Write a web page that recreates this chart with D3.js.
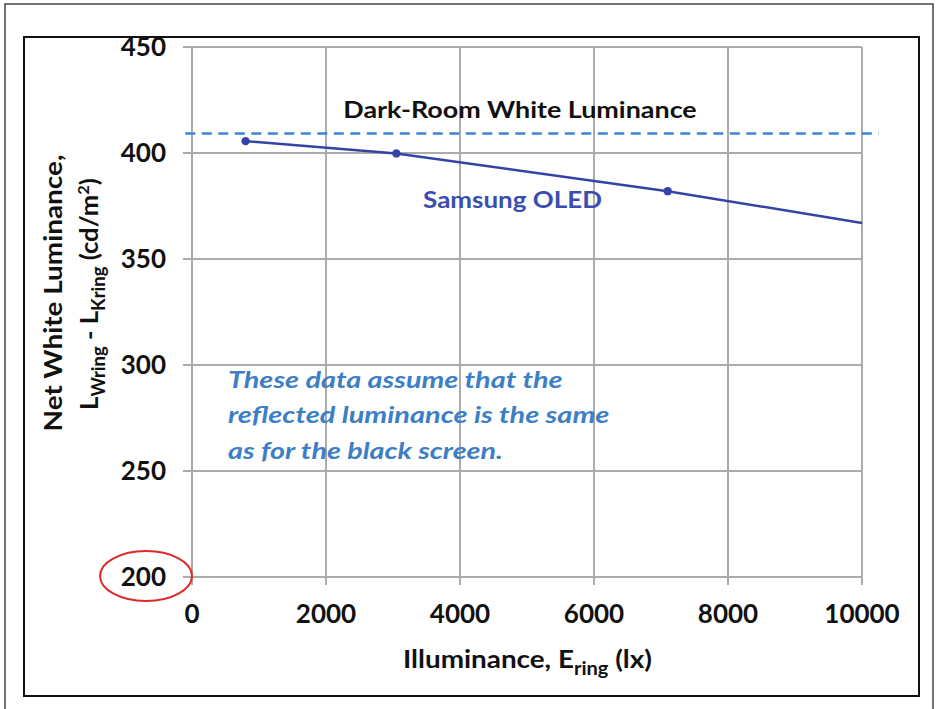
<!DOCTYPE html>
<html><head><meta charset="utf-8">
<script src="https://cdn.jsdelivr.net/npm/d3@7"></script>
<style>body{margin:0;background:#fff}svg{display:block}</style>
</head><body>
<script>
// Data
const xTicks = [0, 2000, 4000, 6000, 8000, 10000];
const yTicks = [200, 250, 300, 350, 400, 450];
const measIllum = [800, 3050, 7100];          // measured points (markers)
const measLum = [405.6, 399.8, 382.0];
const lineIllum = [800, 3050, 7100, 10000];   // plotted curve
const lineLum = [405.6, 399.8, 382.0, 367.0];
const darkRoomLum = 409.2;
const darkRoomRange = [-100, 10250];
const noteLines = ["These data assume that the", "reflected luminance is the same", "as for the black screen."];

const W = 940, H = 709;
const svg = d3.select("body").append("svg").attr("width", W).attr("height", H);
const font = "Lato, 'Open Sans', sans-serif";

// stretch a text horizontally (in its own coords) to a target width around cx
function fitWidth(sel, target, cx) {
  const w = sel.node().getBBox().width;
  const k = target / w;
  sel.attr("transform", `translate(${cx},0) scale(${k},1) translate(${-cx},0)`);
}

// Frames
svg.append("rect").attr("x", 5).attr("y", 4).attr("width", 928).attr("height", 720)
  .attr("fill", "none").attr("stroke", "#444").attr("stroke-width", 1.5);
svg.append("rect").attr("x", 24).attr("y", 37).attr("width", 895).attr("height", 659)
  .attr("fill", "none").attr("stroke", "#111").attr("stroke-width", 2);

const x = d3.scaleLinear().domain([0, 10000]).range([192, 862]);
const y = d3.scaleLinear().domain([200, 450]).range([577, 47]);

const grid = "#ababab";
svg.append("g").selectAll("line").data(xTicks).join("line")
  .attr("x1", d => x(d)).attr("x2", d => x(d))
  .attr("y1", y(450)).attr("y2", y(200) + 8)
  .attr("stroke", grid).attr("stroke-width", 2);
svg.append("g").selectAll("line").data(yTicks).join("line")
  .attr("x1", x(0) - 9).attr("x2", x(10000))
  .attr("y1", d => y(d)).attr("y2", d => y(d))
  .attr("stroke", grid).attr("stroke-width", 2);

// tick labels
svg.append("g").selectAll("text").data(yTicks).join("text")
  .attr("x", 166).attr("y", d => y(d)).attr("dy", "0.36em")
  .attr("text-anchor", "end").attr("font-family", font).attr("font-weight", "bold")
  .attr("font-size", 26).attr("fill", "#111").text(d => d);
svg.append("g").selectAll("text").data(xTicks).join("text")
  .attr("x", d => x(d)).attr("y", 623)
  .attr("text-anchor", "middle").attr("font-family", font).attr("font-weight", "bold")
  .attr("font-size", 26).attr("fill", "#111").text(d => d);

// dashed dark-room line
svg.append("line")
  .attr("x1", x(darkRoomRange[0])).attr("x2", x(darkRoomRange[1]))
  .attr("y1", y(darkRoomLum)).attr("y2", y(darkRoomLum))
  .attr("stroke", "#3a86d6").attr("stroke-width", 2.5).attr("stroke-dasharray", "10,6.5");

// data line
const pts = lineIllum.map((v, i) => [v, lineLum[i]]);
svg.append("path").datum(pts)
  .attr("d", d3.line().x(d => x(d[0])).y(d => y(d[1])))
  .attr("fill", "none").attr("stroke", "#3343a8").attr("stroke-width", 2.5);
svg.append("g").selectAll("circle").data(measIllum).join("circle")
  .attr("cx", d => x(d)).attr("cy", (d, i) => y(measLum[i])).attr("r", 4.2)
  .attr("fill", "#3343a8");

// annotations
const dr = svg.append("text").attr("x", 520).attr("y", 118).attr("text-anchor", "middle")
  .attr("font-family", font).attr("font-weight", "bold").attr("font-size", 22)
  .attr("fill", "#111").text("Dark-Room White Luminance");
fitWidth(dr, 354, 520);
const so = svg.append("text").attr("x", 512.5).attr("y", 208).attr("text-anchor", "middle")
  .attr("font-family", font).attr("font-weight", "bold").attr("font-size", 23)
  .attr("fill", "#3a4eb0").text("Samsung OLED");
fitWidth(so, 179, 512.5);

const noteW = [335, 382, 275];
svg.append("g").selectAll("text").data(noteLines).join("text")
  .attr("x", 228).attr("y", (d, i) => 388 + i * 35.5)
  .attr("font-family", font).attr("font-weight", "bold").attr("font-style", "italic")
  .attr("font-size", 22).attr("fill", "#3d7fc6").text(d => d)
  .each(function(d, i) { fitWidth(d3.select(this), noteW[i], 228); });

// x axis title
const xt = svg.append("text").attr("x", 527.5).attr("y", 668).attr("text-anchor", "middle")
  .attr("font-family", font).attr("font-weight", "bold").attr("font-size", 25).attr("fill", "#111");
xt.append("tspan").text("Illuminance, E");
xt.append("tspan").attr("dy", 7).attr("font-size", 18).text("ring");
xt.append("tspan").attr("dy", -7).text(" (lx)");
fitWidth(xt, 249, 527.5);

// y axis title
const yt = svg.append("g").attr("transform", "translate(0,293) rotate(-90)");
const y1 = yt.append("text").attr("x", 0).attr("y", 62).attr("text-anchor", "middle")
  .attr("font-family", font).attr("font-weight", "bold").attr("font-size", 25).attr("fill", "#111")
  .text("Net White Luminance,");
fitWidth(y1, 277, 0);
const yt2 = yt.append("text").attr("x", -1).attr("y", 98).attr("text-anchor", "middle")
  .attr("font-family", font).attr("font-weight", "bold").attr("font-size", 25).attr("fill", "#111");
yt2.append("tspan").text("L");
yt2.append("tspan").attr("dy", 7).attr("font-size", 18).text("Wring");
yt2.append("tspan").attr("dy", -7).text(" - L");
yt2.append("tspan").attr("dy", 7).attr("font-size", 18).text("Kring");
yt2.append("tspan").attr("dy", -7).text(" (cd/m");
yt2.append("tspan").attr("dy", -9).attr("font-size", 16).text("2");
yt2.append("tspan").attr("dy", 9).text(")");
fitWidth(yt2, 232, -1);

// red ellipse around 200
svg.append("ellipse").attr("cx", 146).attr("cy", y(200) - 1).attr("rx", 46).attr("ry", 25)
  .attr("fill", "none").attr("stroke", "#e02828").attr("stroke-width", 2);
</script>
</body></html>
